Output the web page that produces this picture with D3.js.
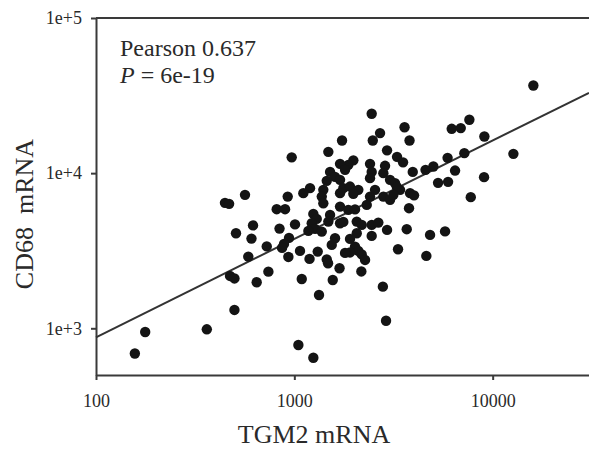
<!DOCTYPE html>
<html>
<head>
<meta charset="utf-8">
<script src="https://cdn.jsdelivr.net/npm/d3@7"></script>
<style>
  body { margin: 0; background: #fff; }
  svg { display: block; font-family: "Liberation Serif", "Times New Roman", serif; }
</style>
</head>
<body>
<div id="chart"></div>
<script>
var width = 589;
var height = 454;

// TGM2 mRNA (x) and CD68 mRNA (y)
var tgm2 = [2455, 2705, 2486, 3595, 3809, 1740, 1484, 970, 2934, 3295,
  3533, 2867, 2811, 5925, 5023, 4587, 3954, 5305, 5959, 1984,
  1872, 1700, 1802, 1514, 1604, 1700, 1457, 2408, 2455, 2408,
  3038, 3219, 3412, 3284, 1200, 1110, 1400, 1375, 1400, 1766,
  1909, 2102, 1984, 1700, 2552, 2408, 2811, 3038, 3157, 3832,
  4014, 926, 564, 447, 469, 815, 898, 1700, 1872, 2023,
  2318, 3787, 1247, 1297, 1224, 1272, 1375, 1177, 1514, 1484,
  1700, 1766, 2064, 2187, 2455, 2652, 2064, 2455, 2934, 3688,
  4834, 5754, 619, 842, 1008, 508, 608, 726, 940, 887,
  867, 1604, 1544, 1909, 2023, 2102, 2187, 2273, 1909, 1802,
  1068, 1312, 933, 1193, 1457, 1479, 3333, 4630, 586, 740,
  474, 499, 1690, 2177, 1090, 646, 1562, 2795, 1332, 2900,
  499, 177, 157, 362, 1048, 1247, 16040, 7630, 6216, 6903,
  9082, 12720, 7197, 6463, 9049, 7755];

var cd68 = [24130, 18120, 16230, 19750, 16230, 16230, 13720, 12640, 14030, 12740,
  11740, 11150, 10000, 12550, 11030, 10500, 10190, 8659, 8789, 12090,
  11310, 11480, 10500, 10190, 9465, 9054, 8919, 11480, 10190, 9284,
  9054, 8621, 7804, 8159, 8002, 7430, 7804, 7063, 6387, 8002,
  8195, 7804, 7354, 7430, 7804, 7063, 7063, 6727, 7244, 7430,
  7192, 7063, 7244, 6434, 6338, 5857, 5857, 6088, 5797, 5841,
  6244, 5946, 5463, 5073, 4757, 4372, 4200, 4244, 5383, 4871,
  4757, 4850, 4871, 4640, 4640, 4800, 4101, 3940, 4308, 4353,
  3999, 4213, 4605, 4392, 4674, 4101, 3785, 3372, 3824, 3499,
  3298, 3807, 3447, 3768, 3363, 3153, 2993, 2758, 3083, 3061,
  3153, 3121, 2884, 2800, 2779, 2627, 3234, 2928, 2897, 2318,
  2175, 2096, 2438, 2325, 2080, 1981, 2049, 1855, 1640, 1119,
  1313, 946, 688, 985, 780, 646, 36750, 22080, 19310, 19510,
  17220, 13320, 13460, 10390, 9424, 7002];

var xTicks = [100, 1000, 10000];
var yTicks = [1e3, 1e4, 1e5];
var xDomain = [100, 30600];
var yDomain = [500, 1e5];

// log10(CD68) = fitIntercept + fitSlope * log10(TGM2)
var fitIntercept = 1.674;
var fitSlope = 0.634;

var pearsonText = "Pearson 0.637";
var pText = "= 6e-19";

var margin = {left: 96, top: 18, right: 0, bottom: 79};

var x = d3.scaleLog()
  .domain(xDomain)
  .range([margin.left, width - margin.right]);

var y = d3.scaleLog()
  .domain(yDomain)
  .range([height - margin.bottom, margin.top]);

var svg = d3.select("#chart").append("svg")
  .attr("width", width)
  .attr("height", height);

var axisColor = "#3a3a3a";

// x axis
var gx = svg.append("g")
  .attr("transform", `translate(0,${y(yDomain[0])})`)
  .call(d3.axisBottom(x).tickValues(xTicks).tickFormat(d3.format("d"))
    .tickSize(5).tickPadding(14).tickSizeOuter(0));

// y axis
var gy = svg.append("g")
  .attr("transform", `translate(${x(xDomain[0])},0)`)
  .call(d3.axisLeft(y).tickValues(yTicks).tickFormat(d => "1e+" + Math.round(Math.log10(d)))
    .tickSize(5).tickPadding(9).tickSizeOuter(0));

[gx, gy].forEach(g => {
  g.select(".domain").attr("stroke", axisColor).attr("stroke-width", 2);
  g.selectAll(".tick line").attr("stroke", axisColor).attr("stroke-width", 2);
  g.selectAll(".tick text")
    .attr("fill", "#2a2a2a")
    .style("font-family", "'Liberation Serif', 'Times New Roman', serif")
    .style("font-size", "18px");
});

// top frame line
svg.append("line")
  .attr("x1", x(xDomain[0])).attr("x2", x(xDomain[1]))
  .attr("y1", y(yDomain[1])).attr("y2", y(yDomain[1]))
  .attr("stroke", axisColor).attr("stroke-width", 2);

// regression line
var fitLine = d3.line()
  .x(d => x(d))
  .y(d => y(Math.pow(10, fitIntercept + fitSlope * Math.log10(d))));

svg.append("path")
  .datum(xDomain)
  .attr("d", fitLine)
  .attr("fill", "none")
  .attr("stroke", "#333")
  .attr("stroke-width", 2);

// points
svg.append("g")
  .attr("fill", "#141414")
  .selectAll("circle")
  .data(tgm2.map((d, i) => ({tgm2: d, cd68: cd68[i]})))
  .join("circle")
    .attr("cx", d => x(d.tgm2))
    .attr("cy", d => y(d.cd68))
    .attr("r", 5.2);

// annotation
svg.append("text")
  .attr("x", 120)
  .attr("y", 56)
  .attr("fill", "#2a2a2a")
  .style("font-size", "24px")
  .text(pearsonText);

var pLine = svg.append("text")
  .attr("x", 120)
  .attr("y", 83)
  .attr("fill", "#2a2a2a")
  .style("font-size", "24px");
pLine.append("tspan").style("font-style", "italic").text("P");
pLine.append("tspan").text(" " + pText);

// axis titles
svg.append("text")
  .attr("x", 314)
  .attr("y", 443)
  .attr("text-anchor", "middle")
  .attr("fill", "#2a2a2a")
  .style("font-size", "26px")
  .text("TGM2 mRNA");

svg.append("text")
  .attr("transform", "translate(33,214) rotate(-90)")
  .attr("text-anchor", "middle")
  .attr("fill", "#2a2a2a")
  .style("font-size", "26px")
  .style("white-space", "pre")
  .text("CD68\u00a0\u00a0mRNA");
</script>
</body>
</html>
